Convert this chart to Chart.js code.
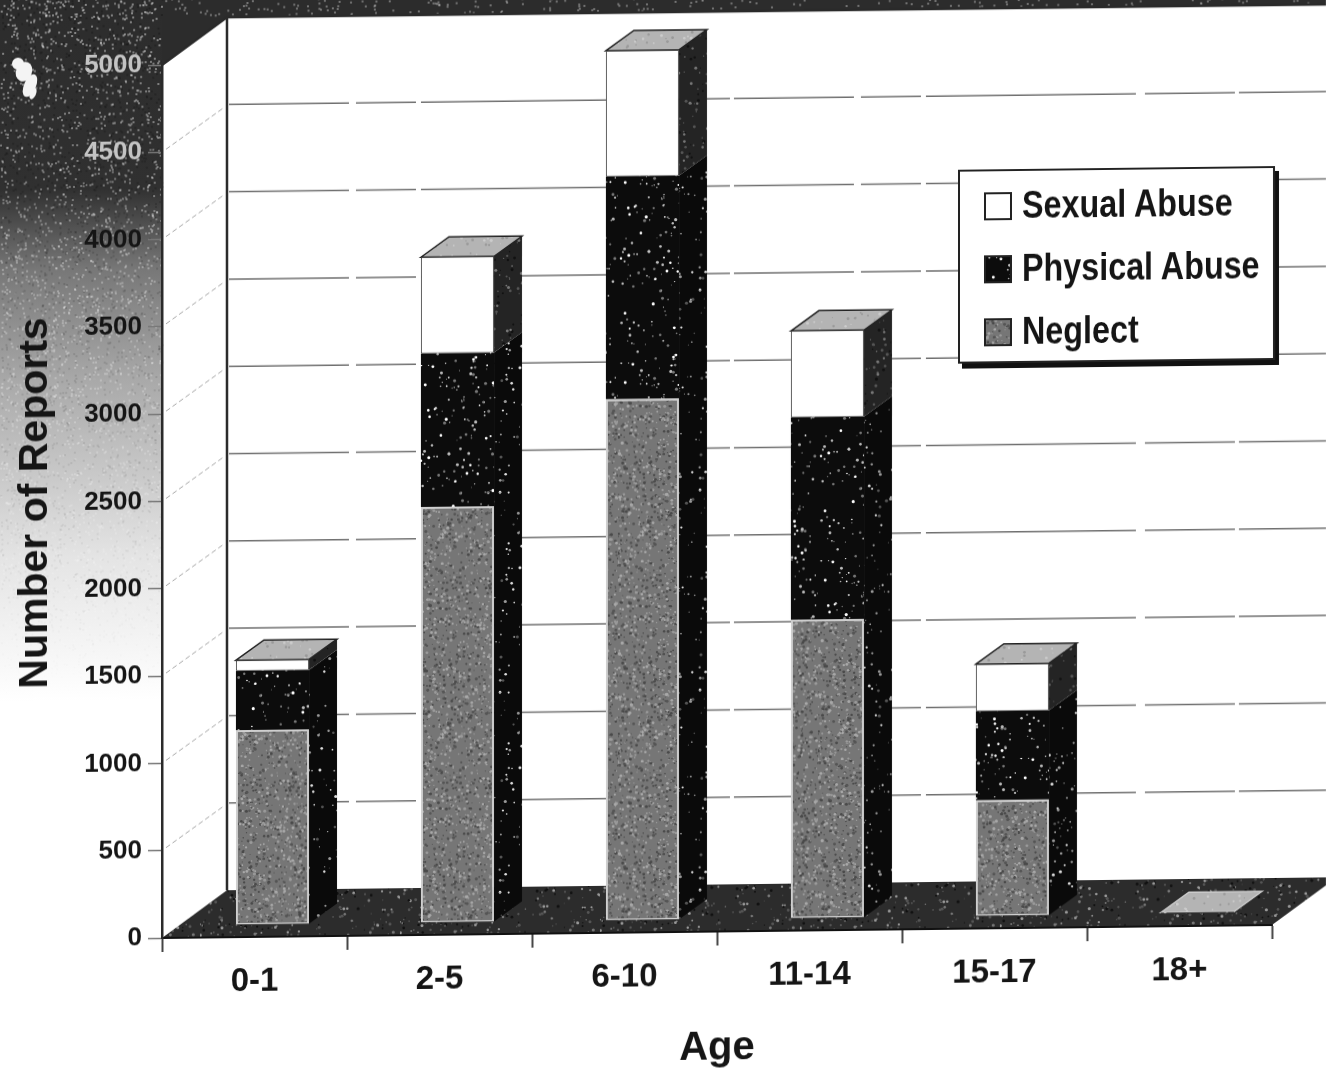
<!DOCTYPE html>
<html>
<head>
<meta charset="utf-8">
<title>Number of Reports by Age</title>
<script src="https://cdn.jsdelivr.net/npm/chart.js"></script>
<style>
  html, body { margin: 0; padding: 0; background: #fff; overflow: hidden; }
  /* the scan is slightly skewed, so the whole stage is too */
  #stage { position: absolute; left: 0; top: 0; width: 1326px; height: 1071px;
           transform-origin: 162px 938px; transform: skewY(-0.67deg); }
  #chart { position: absolute; left: 0; top: -20px; }
  #legend { position: absolute; left: 958px; top: 179px; width: 317px; height: 194px;
            box-sizing: border-box; background: #fff; border: 2px solid #222;
            box-shadow: 4px 5px 0 #111; padding: 3px 0 0 24px;
            font: bold 38px "Liberation Sans", sans-serif; color: #151515; }
  #legend .row { display: flex; align-items: center; height: 63px; white-space: nowrap; }
  #legend .swatch { flex: none; width: 24px; height: 24px; border: 2px solid #222; margin-right: 10px; background-color: #fff; }
  /* the legend type is condensed in the original */
  #legend .name { display: inline-block; transform: scaleX(0.85); transform-origin: 0 50%; }
</style>
</head>
<body>
<div id="stage">
  <canvas id="chart" width="1326" height="1111"></canvas>
  <div id="legend"></div>
</div>
<script>
const ages = ["0-1", "2-5", "6-10", "11-14", "15-17", "18+"];
const neglect = [1117, 2382, 2987, 1711, 666, 5];
const physicalAbuse = [339, 880, 1276, 1160, 509, 3];
const sexualAbuse = [61, 551, 720, 495, 270, 2];
const yMax = 5000;
const yStep = 500;

// 3d look
const FRONT = { x: 18, y: -12 };   // front face of the bars, off the axis
const DEPTH = { x: 28, y: -20 };   // bar depth
const WALL = { x: 65, y: -47 };    // back wall, off the axis

// repeatable noise for the scanned texture only, not for any data
let seed = 12345;
function noise() {
  seed = (seed * 1664525 + 1013904223) % 4294967296;
  return seed / 4294967296;
}

function speckle(base, dots, count) {
  const c = document.createElement("canvas");
  c.width = c.height = 200;
  const g = c.getContext("2d");
  g.fillStyle = base;
  g.fillRect(0, 0, 200, 200);
  for (let i = 0; i < count; i++) {
    g.fillStyle = dots[Math.floor(noise() * dots.length)];
    g.beginPath();
    g.arc(noise() * 200, noise() * 200, 0.5 + noise() * 1.1, 0, Math.PI * 2);
    g.fill();
  }
  return c;
}

const ctxMain = document.getElementById("chart").getContext("2d");
const neglectTex = speckle("#767676", ["#9a9a9a", "#555", "#a8a8a8", "#4a4a4a"], 2600);
const physicalTex = speckle("#0c0c0c", ["#fff", "#bbb", "#777"], 420);
const sideTex = speckle("#0a0a0a", ["#ddd", "#999", "#555"], 300);
const upperSideTex = speckle("#242424", ["#777", "#111", "#555"], 500);
const floorTex = speckle("#2c2c2c", ["#777", "#555", "#111", "#999"], 800);
const roofTex = speckle("#b4b4b4", ["#999", "#ccc"], 500);

function poly(ctx, pts, fill, stroke) {
  ctx.beginPath();
  pts.forEach((p, i) => (i ? ctx.lineTo(p[0], p[1]) : ctx.moveTo(p[0], p[1])));
  ctx.closePath();
  if (fill) { ctx.fillStyle = fill; ctx.fill(); }
  if (stroke) { ctx.strokeStyle = stroke; ctx.lineWidth = 1.5; ctx.stroke(); }
}

const backdrop = {
  id: "backdrop",
  beforeDraw(chart) {
    const ctx = chart.ctx;
    const { left, right, top, bottom } = chart.chartArea;
    const yS = chart.scales.y;
    const wx = left + WALL.x;

    ctx.save();
    ctx.fillStyle = "#fff";
    ctx.fillRect(0, 0, chart.width, chart.height);

    // mottled grey behind the axis, dark at the top and fading out downwards
    const grad = ctx.createLinearGradient(0, 0, 0, 800);
    grad.addColorStop(0, "#2c2c2c");
    grad.addColorStop(0.26, "#303030");
    grad.addColorStop(0.36, "#777");
    grad.addColorStop(0.5, "#a9a9a9");
    grad.addColorStop(0.72, "#e4e4e4");
    grad.addColorStop(0.9, "#fff");
    ctx.fillStyle = grad;
    ctx.fillRect(0, 0, left, 800);
    ctx.fillStyle = "#2c2c2c";
    ctx.fillRect(0, 0, chart.width, top + WALL.y + 1);
    poly(ctx, [[left, top], [wx, top + WALL.y], [left, top + WALL.y]], "#2c2c2c");
    for (let i = 0; i < 5000; i++) {
      const x = noise() * left, y = noise() * 720, light = noise() > 0.45;
      ctx.fillStyle = light ? "rgba(255,255,255," + (0.1 + 0.35 * (1 - y / 720)) + ")"
                            : "rgba(0,0,0," + (0.22 * (1 - y / 720)) + ")";
      ctx.fillRect(x, y, 2, 2);
    }
    for (let i = 0; i < 700; i++) {
      ctx.fillStyle = "rgba(255,255,255,0.35)";
      ctx.fillRect(noise() * chart.width, noise() * (top + WALL.y - 2), 2, 2);
    }
    // the white blotch top left
    ctx.fillStyle = "#f4f4f4";
    [[18, 82, 6, 6], [24, 90, 8, 10], [30, 104, 6, 12], [33, 112, 3, 6]].forEach((b) => {
      ctx.beginPath();
      ctx.ellipse(b[0], b[1], b[2], b[3], 0.4, 0, Math.PI * 2);
      ctx.fill();
    });

    // floor
    ctx.fillStyle = ctx.createPattern(floorTex, "repeat");
    ctx.beginPath();
    ctx.moveTo(left, bottom);
    ctx.lineTo(wx, bottom + WALL.y);
    ctx.lineTo(right + WALL.x, bottom + WALL.y);
    ctx.lineTo(right, bottom);
    ctx.closePath();
    ctx.fill();

    // gridlines on side wall and back wall, broken up like the scan
    yS.ticks.forEach((t) => {
      if (t.value === 0) return;
      const y = yS.getPixelForValue(t.value);
      if (t.value < yMax) {
        ctx.strokeStyle = "#a8a8a8";
        ctx.lineWidth = 1;
        ctx.setLineDash([5, 3]);
        ctx.beginPath();
        ctx.moveTo(left + 4, y - 3);
        ctx.lineTo(wx - 3, y + WALL.y + 3);
        ctx.stroke();
        ctx.strokeStyle = "#707070";
        ctx.lineWidth = 1.5;
        ctx.setLineDash([120, 7, 60, 5, 210, 9, 90, 4]);
        ctx.beginPath();
        ctx.moveTo(wx + 2, y + WALL.y);
        ctx.lineTo(chart.width, y + WALL.y);
        ctx.stroke();
      }
    });
    ctx.setLineDash([]);

    // wall edges
    ctx.strokeStyle = "#2a2a2a";
    ctx.lineWidth = 2.5;
    ctx.beginPath();
    ctx.moveTo(left, top);
    ctx.lineTo(wx, top + WALL.y);
    ctx.lineTo(chart.width, top + WALL.y);
    ctx.moveTo(wx, top + WALL.y);
    ctx.lineTo(wx, bottom + WALL.y);
    ctx.stroke();
    ctx.restore();
  }
};

const bars3d = {
  id: "bars3d",
  beforeDatasetsDraw(chart) {
    const ctx = chart.ctx;
    ctx.save();
    ctx.translate(FRONT.x, FRONT.y);
    const metas = chart.data.datasets.map((d, i) => chart.getDatasetMeta(i));
    const sideDark = ctx.createPattern(sideTex, "repeat");
    const sideUpper = ctx.createPattern(upperSideTex, "repeat");
    const roof = ctx.createPattern(roofTex, "repeat");
    ages.forEach((a, idx) => {
      const low = metas[0].data[idx], mid = metas[1].data[idx], t = metas[2].data[idx];
      const l = t.x - t.width / 2, r = t.x + t.width / 2;
      // side: one dark face for the two lower segments, a greyer one on top
      poly(ctx, [[r, mid.y], [r + DEPTH.x, mid.y + DEPTH.y], [r + DEPTH.x, low.base + DEPTH.y], [r, low.base]], sideDark);
      poly(ctx, [[r, t.y], [r + DEPTH.x, t.y + DEPTH.y], [r + DEPTH.x, mid.y + DEPTH.y], [r, mid.y]], sideUpper);
      poly(ctx, [[l, t.y], [l + DEPTH.x, t.y + DEPTH.y], [r + DEPTH.x, t.y + DEPTH.y], [r, t.y]], roof, idx === 5 ? "#ccc" : "#222");
    });
  },
  afterDatasetsDraw(chart) {
    chart.ctx.restore();
  }
};

const seriesList = [
  { label: "Neglect", data: neglect, tex: neglectTex, border: "#cfcfcf", bw: 2 },
  { label: "Physical Abuse", data: physicalAbuse, tex: physicalTex, border: "#0c0c0c", bw: 0 },
  { label: "Sexual Abuse", data: sexualAbuse, tex: null, border: "#555", bw: 1 }
];

new Chart(ctxMain, {
  type: "bar",
  data: {
    labels: ages,
    datasets: seriesList.map((s) => ({
      label: s.label,
      data: s.data,
      backgroundColor: s.tex ? ctxMain.createPattern(s.tex, "repeat") : "#fff",
      borderColor: s.border,
      borderWidth: s.bw,
      borderSkipped: false,
      categoryPercentage: 1,
      barPercentage: 0.395,
      clip: false
    }))
  },
  plugins: [backdrop, bars3d],
  options: {
    responsive: false,
    animation: false,
    layout: { padding: { left: 0, right: 54, top: 85, bottom: 0 } },
    plugins: { legend: { display: false }, tooltip: { enabled: false } },
    scales: {
      x: {
        stacked: true,
        afterFit(scale) { scale.height = 153; },
        border: { display: true, color: "#111", width: 2 },
        grid: { drawOnChartArea: false, drawTicks: true, tickLength: 14, tickColor: "#444", tickWidth: 2 },
        ticks: { color: "#151515", padding: 11, maxRotation: 0,
                 font: { family: "Liberation Sans", weight: "bold", size: 33 } },
        title: { display: true, text: "Age", color: "#151515", padding: { top: 0, bottom: 12 },
                 font: { family: "Liberation Sans", weight: "bold", size: 40 } }
      },
      y: {
        stacked: true,
        min: 0,
        max: yMax,
        afterFit(scale) { scale.width = 162; },
        border: { display: true, color: "#2a2a2a", width: 2.5 },
        grid: { drawOnChartArea: false, drawTicks: true, tickLength: 14, tickColor: "#777", tickWidth: 1.5 },
        ticks: { stepSize: yStep, padding: 6,
                 callback: (v) => String(v),
                 color: (c) => (c.tick && c.tick.value >= 4500 ? "#c4c4c4" : "#151515"),
                 font: { family: "Liberation Sans", weight: "bold", size: 26 } },
        title: { display: true, text: "Number of Reports", color: "#151515", padding: { top: 11, bottom: 0 },
                 font: { family: "Liberation Sans", weight: "bold", size: 41 } }
      }
    }
  }
});

// legend, top series first like the stack
const legendBox = document.getElementById("legend");
seriesList.slice().reverse().forEach((s) => {
  const row = document.createElement("div");
  row.className = "row";
  const sw = document.createElement("span");
  sw.className = "swatch";
  if (s.tex) sw.style.backgroundImage = "url(" + s.tex.toDataURL() + ")";
  const name = document.createElement("span");
  name.className = "name";
  name.textContent = s.label;
  row.appendChild(sw);
  row.appendChild(name);
  legendBox.appendChild(row);
});
</script>
</body>
</html>
